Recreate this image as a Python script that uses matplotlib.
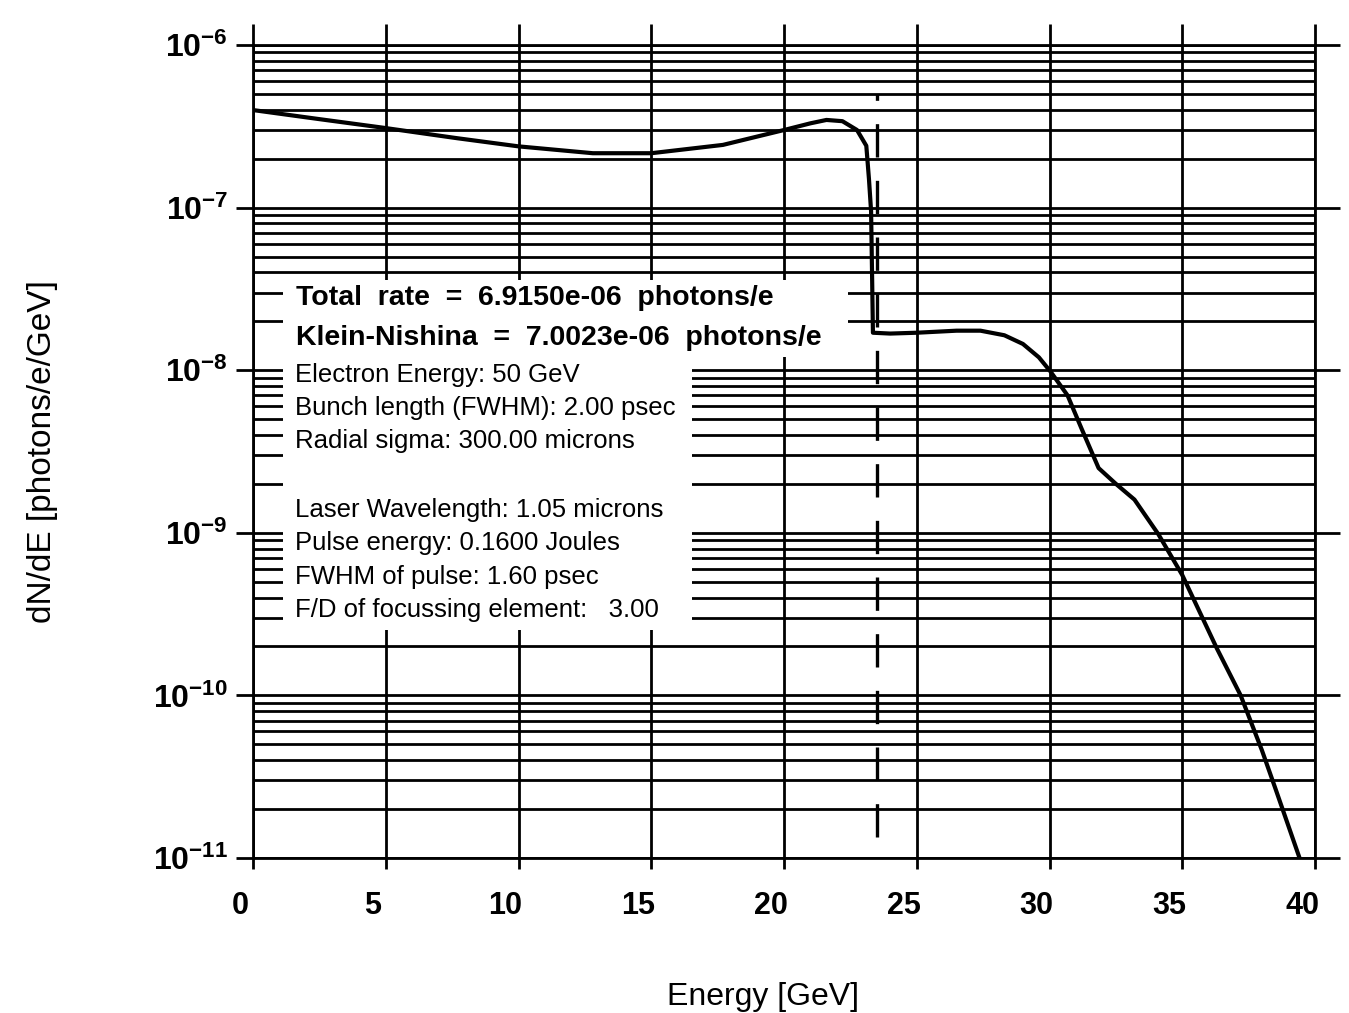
import matplotlib
matplotlib.use('Agg')
import matplotlib.pyplot as plt
from matplotlib.patches import Rectangle
from matplotlib.transforms import ScaledTranslation
from matplotlib.ticker import LogLocator, FixedLocator, NullFormatter, FixedFormatter

# ---------------- data ----------------
energy = [0.0, 2.5, 4.9, 7.7, 10.0, 12.8, 15.0, 17.7, 20.0, 21.0, 21.6, 22.2,
          22.75, 23.1, 23.2, 23.28, 23.32, 23.35, 24.0, 25.0, 26.5, 27.4,
          28.3, 29.0, 29.6, 30.04, 30.68, 31.2, 31.85, 32.5, 33.2, 34.1,
          35.0, 36.3, 37.2, 38.0, 38.5, 39.4]
rate = [3.98e-7, 3.5e-7, 3.1e-7, 2.67e-7, 2.38e-7, 2.16e-7, 2.16e-7, 2.43e-7,
        3.0e-7, 3.3e-7, 3.46e-7, 3.4e-7, 3.0e-7, 2.4e-7, 1.5e-7, 9.5e-8,
        3.6e-8, 1.7e-8, 1.68e-8, 1.7e-8, 1.75e-8, 1.75e-8, 1.64e-8, 1.45e-8,
        1.2e-8, 9.8e-9, 7.0e-9, 4.4e-9, 2.5e-9, 2.0e-9, 1.6e-9, 9.8e-10,
        5.5e-10, 1.95e-10, 1.0e-10, 4.6e-11, 2.7e-11, 1.02e-11]

edge_energy = 23.5
edge_span = [1.35e-11, 5.0e-7]

x_ticks = [0, 5, 10, 15, 20, 25, 30, 35, 40]
y_decades = [1e-11, 1e-10, 1e-9, 1e-8, 1e-7, 1e-6]
y_tick_labels = [r'$\mathbf{10^{-11}}$', r'$\mathbf{10^{-10}}$',
                 r'$\mathbf{10^{-9}}$', r'$\mathbf{10^{-8}}$',
                 r'$\mathbf{10^{-7}}$', r'$\mathbf{10^{-6}}$']

info_bold = ["Total  rate  =  6.9150e-06  photons/e",
             "Klein-Nishina  =  7.0023e-06  photons/e"]
info_lines = ["Electron Energy: 50 GeV",
              "Bunch length (FWHM): 2.00 psec",
              "Radial sigma: 300.00 microns",
              "Laser Wavelength: 1.05 microns",
              "Pulse energy: 0.1600 Joules",
              "FWHM of pulse: 1.60 psec",
              "F/D of focussing element:   3.00"]

# ---------------- figure ----------------
plt.rcParams['font.family'] = ['Liberation Sans', 'DejaVu Sans']
plt.rcParams['mathtext.fontset'] = 'custom'
plt.rcParams['mathtext.rm'] = 'Liberation Sans'
plt.rcParams['mathtext.bf'] = 'Liberation Sans:bold'
W, H = 1349, 1013
fig = plt.figure(figsize=(W / 100, H / 100), dpi=100)
fig.patch.set_facecolor('white')

def fx(px):
    return px / W

def fy(py):
    return 1 - py / H

ax = fig.add_axes([fx(253), fy(858), fx(1315) - fx(253), fy(45) - fy(858)])
ax.set_yscale('log')
ax.set_xlim(0, 40)
ax.set_ylim(1e-11, 1e-6)
ax.set_axisbelow(True)

ax.xaxis.set_major_locator(FixedLocator(x_ticks))
ax.set_xticklabels([str(t) for t in x_ticks], fontweight='bold')
ax.yaxis.set_major_locator(FixedLocator(y_decades))
ax.yaxis.set_major_formatter(FixedFormatter(y_tick_labels))
ax.yaxis.set_minor_locator(LogLocator(base=10, subs=range(2, 10), numticks=100))
ax.yaxis.set_minor_formatter(NullFormatter())

lw_grid = 2.0
ax.grid(True, which='both', axis='y', color='black', lw=lw_grid)
ax.grid(True, which='major', axis='x', color='black', lw=lw_grid)
for s in ax.spines.values():
    s.set_linewidth(lw_grid)

ax.tick_params(axis='y', which='minor', length=0)
ax.tick_params(axis='y', which='major', direction='out', length=12, width=lw_grid,
               left=True, right=True, labelsize=23, pad=6)
ax.tick_params(axis='x', which='major', direction='out', length=8, width=lw_grid,
               top=True, bottom=True, labelsize=22, pad=16)
for t in ax.yaxis.get_major_ticks():
    t.tick2line.set_markersize(18)
for t in ax.xaxis.get_major_ticks():
    t.tick2line.set_markersize(15)

shift = ScaledTranslation(-0.13, 0, fig.dpi_scale_trans)
for lab in ax.get_xticklabels():
    lab.set_transform(lab.get_transform() + shift)

# curve and Compton edge
ax.plot(energy, rate, color='black', lw=3.0, solid_joinstyle='round', zorder=3)
ax.plot([edge_energy, edge_energy], edge_span, color='black', lw=2.4,
        linestyle=(0, (10, 7)), zorder=3)

# white info box covering the grid
boxA = Rectangle((fx(283), fy(357)), fx(848) - fx(283), fy(280) - fy(357),
                 transform=fig.transFigure, facecolor='white', edgecolor='none',
                 zorder=1, clip_on=False)
boxB = Rectangle((fx(283), fy(630)), fx(692) - fx(283), fy(357) - fy(630),
                 transform=fig.transFigure, facecolor='white', edgecolor='none',
                 zorder=1, clip_on=False)
ax.add_patch(boxA)
ax.add_patch(boxB)

bold_y = [298, 338]
for txt, py in zip(info_bold, bold_y):
    fig.text(fx(296), fy(py), txt, fontsize=20.5, fontweight='bold',
             ha='left', va='center', zorder=5)
line_y = [375, 408, 441, 510, 543, 577, 610]
for txt, py in zip(info_lines, line_y):
    fig.text(fx(295), fy(py), txt, fontsize=18.5, ha='left', va='center', zorder=5)

ax.set_xlabel('Energy [GeV]', fontsize=23, labelpad=44)
ax.xaxis.label.set_x(0.48)
ax.set_ylabel('dN/dE [photons/e/GeV]', fontsize=24, labelpad=68)

fig.savefig('out.png', dpi=100, facecolor='white')
